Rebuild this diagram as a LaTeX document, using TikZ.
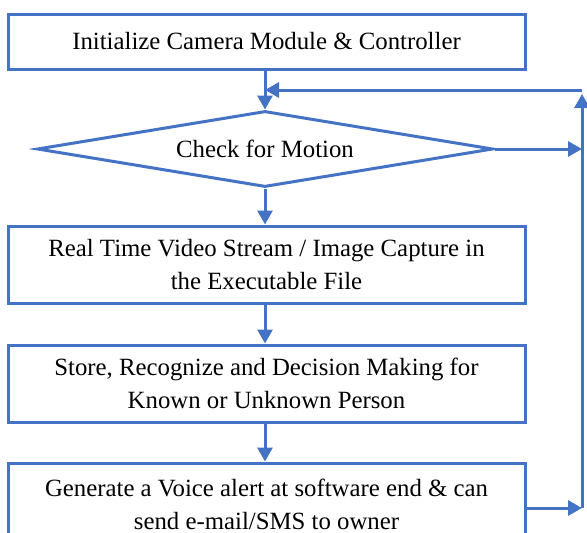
\documentclass[tikz,border=0pt]{standalone}
\usepackage{fontspec}
\setmainfont{Liberation Serif}
\usetikzlibrary{arrows.meta,shapes.geometric}
\definecolor{flowblue}{HTML}{4472C4}
\tikzset{
  stepbox/.style={draw=flowblue, line width=3pt, rectangle, minimum width=517pt, inner sep=0pt, align=center, font=\fontsize{24.8}{33}\selectfont},
  decbox/.style={draw=flowblue, line width=3pt, diamond, aspect=6, minimum width=456pt, minimum height=76pt, inner sep=0pt, align=center, font=\fontsize{24.8}{33}\selectfont},
  arr/.style={draw=flowblue, line width=3pt, -{Triangle[length=14pt,width=15pt]}}
}
\begin{document}
\begin{tikzpicture}[x=1pt,y=-1pt]
\useasboundingbox (0,0) rectangle (587,533);
\node[stepbox, minimum height=55pt] (b1) at (266.5,41.5) {Initialize Camera Module \& Controller};
\node[decbox] (d) at (265,149) {Check for Motion};
\node[stepbox, minimum height=77pt] (b2) at (266.5,264.5) {Real Time Video Stream / Image Capture in\\the Executable File};
\node[stepbox, minimum height=77pt] (b3) at (266.5,383.5) {Store, Recognize and Decision Making for\\Known or Unknown Person};
\node[stepbox, minimum height=82pt] (b4) at (266.5,504) {Generate a Voice alert at software end \& can\\send e-mail/SMS to owner};
\coordinate (rtop) at (582,90);
\coordinate (rmid) at (582,149);
\coordinate (rbot) at (582,508);
\coordinate (join) at (265,90);
\draw[arr] (b1.south -| d.north) -- (d.north);
\draw[arr] (d.south) -- (d.south |- b2.north);
\draw[arr] (b2.south -| d.north) -- (d.north |- b3.north);
\draw[arr] (b3.south -| d.north) -- (d.north |- b4.north);
\draw[arr] (d.east) -- (rmid);
\draw[arr] (b4.east |- rbot) -- (rbot);
\draw[arr] (rbot) -- ([yshift=-4pt]rtop);
\draw[arr] (rtop) -- (join);
\end{tikzpicture}
\end{document}
